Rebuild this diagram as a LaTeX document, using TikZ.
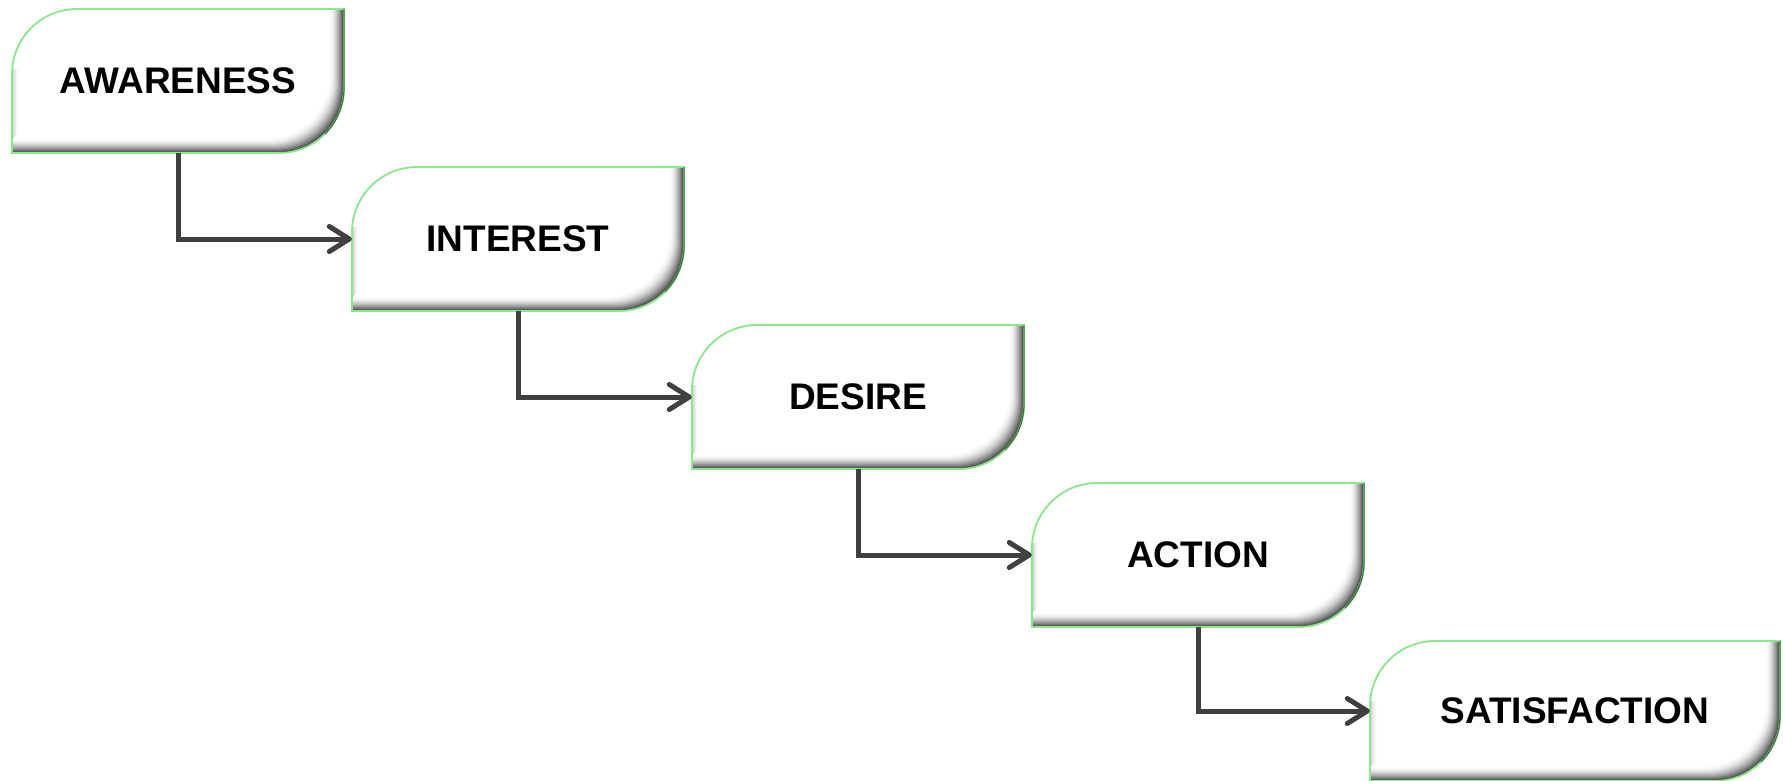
\documentclass[tikz,border=0pt]{standalone}
\usepackage{fontspec}
\setmainfont{Liberation Sans}
\usetikzlibrary{arrows.meta}
\definecolor{lgreen}{HTML}{8CE68C}
\definecolor{dgreen}{HTML}{3E7A3E}
\definecolor{conn}{HTML}{404040}
\newcommand\bvpath[4]{(#1,#2-#4) -- (#1,#2-65) arc[start angle=180,end angle=90,radius=65pt] -- (#1+#3,#2) -- (#1+#3,#2-#4+65) arc[start angle=0,end angle=-90,radius=65pt] -- cycle}
\newcommand\bevbox[6]{%
  \begin{scope}
    \clip \bvpath{#2}{#3}{#4}{#5};
    \fill[black!72] \bvpath{#2}{#3}{#4}{#5};
    \foreach \k/\c in {1/64,2/56,3/48,4/41,5/34,6/28,7/22,8/17,9/12,10/8,11/5,12/3,13/1,14/0} {
      \fill[black!\c, shift={(-\k,\k)}] \bvpath{#2}{#3}{#4}{#5};
    }
    \foreach \i/\c in {0/22,1/16,2/11,3/7,4/4,5/2,6/1} {
      \draw[black!\c, line width=1pt] (#2+\i+0.5,#3-60) -- (#2+\i+0.5,#3-#5+14+\i);
    }
  \end{scope}
  \draw[lgreen, line width=1.8pt] \bvpath{#2}{#3}{#4}{#5};
  \draw[dgreen, line width=1.2pt] (#2+#4,#3) -- (#2+#4,#3-#5+65) arc[start angle=0,end angle=-45,radius=65pt];
  \node[boxtext, minimum width=#4pt, minimum height=#5pt] (#1) at (#2+#4/2,#3-#5/2) {#6};
}
\tikzset{
  boxtext/.style={inner sep=0pt, font=\bfseries\fontsize{37}{40}\selectfont, text=black},
  connector/.style={conn, line width=5pt, -{Straight Barb[length=20pt,width=25pt,round]}}
}
\begin{document}
\begin{tikzpicture}[x=1pt,y=1pt]
\useasboundingbox[fill=white] (0,0) rectangle (1783,-781);
\bevbox{aw}{12}{-9}{332}{144}{AWARENESS}
\bevbox{in}{352}{-167}{332}{144}{INTEREST}
\bevbox{de}{692}{-325}{332}{144}{DESIRE}
\bevbox{ac}{1032}{-483}{332}{144}{ACTION}
\bevbox{sa}{1370}{-641}{410}{140}{SATISFACTION}
\draw[connector] (aw.south) |- (in.west);
\draw[connector] (in.south) |- (de.west);
\draw[connector] (de.south) |- (ac.west);
\draw[connector] (ac.south) |- (sa.west);
\end{tikzpicture}
\end{document}
